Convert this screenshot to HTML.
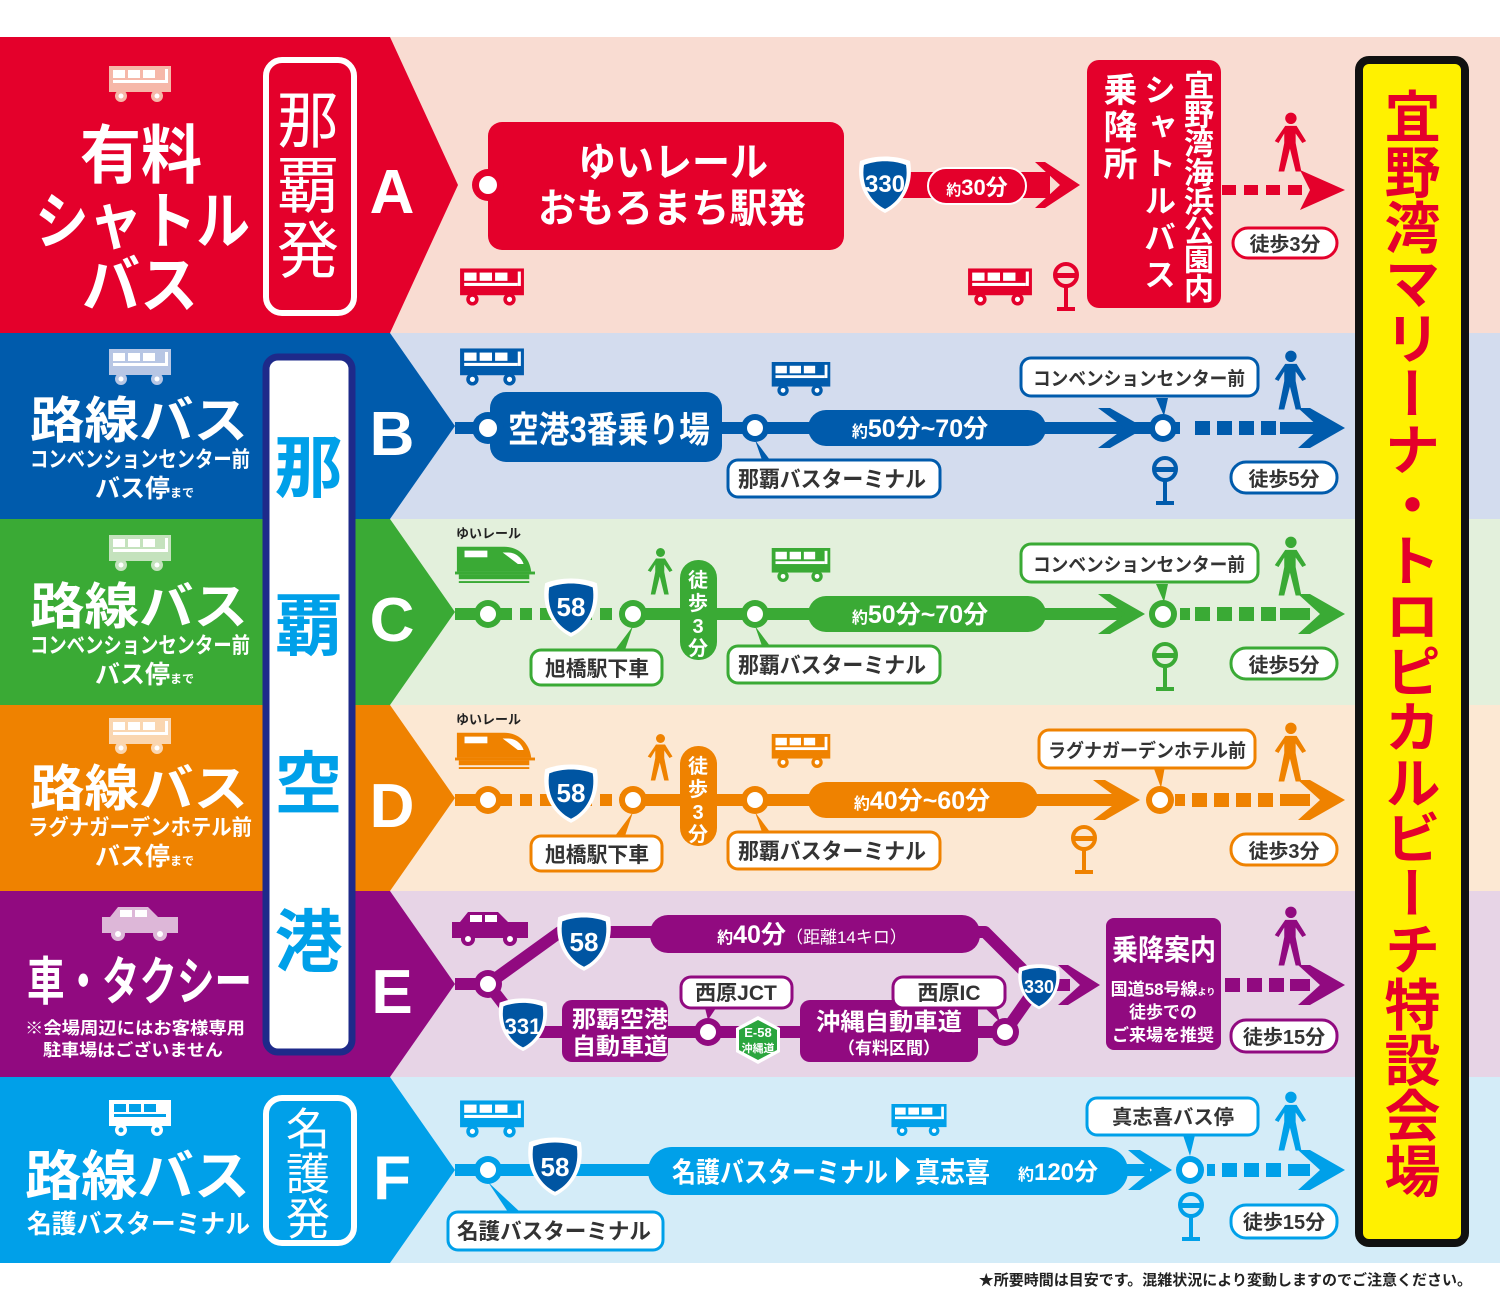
<!DOCTYPE html>
<html><head><meta charset="utf-8">
<style>
body{margin:0;width:1500px;height:1300px;position:relative;background:#fff;overflow:hidden;font-family:"Liberation Sans","Noto Sans CJK JP",sans-serif}
svg{position:absolute;left:0;top:0}
svg text{font-family:"Liberation Sans","Noto Sans CJK JP",sans-serif;font-weight:bold}
.v{position:absolute;writing-mode:vertical-rl;font-weight:bold;line-height:1;white-space:nowrap}
</style></head><body>
<svg width="1500" height="1300" viewBox="0 0 1500 1300">
<defs>
<symbol id="bus" viewBox="0 0 66 36"><rect x="2" y="0" width="62" height="26"/><circle cx="14" cy="30" r="6"/><circle cx="50" cy="30" r="6"/><g fill="#fff"><rect x="6" y="4" width="12" height="8"/><rect x="21" y="4" width="12" height="8"/><rect x="36" y="4" width="12" height="8"/><rect x="6" y="14" width="52" height="3"/><rect x="58" y="3" width="3" height="14"/><circle cx="14" cy="30" r="2.5"/><circle cx="50" cy="30" r="2.5"/></g></symbol>
<symbol id="car" viewBox="0 0 76 34"><path d="M16 0h30l10 10h20v16H0V10h8z"/><circle cx="16" cy="27" r="7"/><circle cx="58" cy="27" r="7"/><g fill="#fff"><rect x="18" y="3" width="12" height="7"/><rect x="33" y="3" width="12" height="7"/><circle cx="16" cy="27" r="3"/><circle cx="58" cy="27" r="3"/></g></symbol>
<symbol id="man" viewBox="0 0 40 64"><circle cx="22" cy="6" r="6"/><path d="M16 14h12l10 16-4 2-7-10v10l6 30h-6l-6-24-6 24h-6l6-30V22l-6 10-4-2z"/></symbol>
<symbol id="stop" viewBox="0 0 30 50"><circle cx="15" cy="13" r="11" fill="none" stroke-width="4" stroke="currentColor"/><rect x="3" y="11" width="24" height="5" fill="currentColor"/><rect x="13" y="24" width="4" height="24" fill="currentColor"/><rect x="6" y="45" width="18" height="4" fill="currentColor"/></symbol>
<symbol id="train" viewBox="0 0 84 42"><path d="M2 4h50c14 0 26 10 28 26H2z"/><rect x="0" y="30" width="84" height="3"/><rect x="4" y="33" width="74" height="5"/><rect x="4" y="40" width="74" height="2"/><rect x="10" y="8" width="24" height="7" fill="#fff"/><path d="M50 10h6c8 0 14 6 16 12h-6z" fill="#fff"/></symbol>
<symbol id="shield" viewBox="0 0 60 60"><path d="M5 6c15-6 35-6 50 0 4 22-5 42-25 52C10 48 1 28 5 6z" fill="#fff"/><path d="M9 10c13-5 29-5 42 0 3 19-5 36-21 44C14 46 6 29 9 10z" fill="#0055a2"/></symbol>
</defs>

<rect x="0" y="37" width="1500" height="296" fill="#f9dcd2"/>
<rect x="0" y="333" width="1500" height="186" fill="#d3dcee"/>
<rect x="0" y="519" width="1500" height="186" fill="#e3f0dc"/>
<rect x="0" y="705" width="1500" height="186" fill="#fce8d3"/>
<rect x="0" y="891" width="1500" height="186" fill="#e7d4e6"/>
<rect x="0" y="1077" width="1500" height="186" fill="#d4ecf8"/>
<polygon points="0,37 390,37 458,185 390,333 0,333" fill="#e4002b"/>
<polygon points="0,333 390,333 455,426 390,519 0,519" fill="#005bac"/>
<polygon points="0,519 390,519 455,612 390,705 0,705" fill="#3aaa35"/>
<polygon points="0,705 390,705 455,798 390,891 0,891" fill="#ef8200"/>
<polygon points="0,891 390,891 455,984 390,1077 0,1077" fill="#910a80"/>
<polygon points="0,1077 390,1077 455,1170 390,1263 0,1263" fill="#00a0e9"/>

<use href="#bus" x="107" y="66" width="66" height="36" fill="#f6b7a8"/>
<use href="#bus" x="107" y="349" width="66" height="36" fill="#b7c6e4"/>
<use href="#bus" x="107" y="535" width="66" height="36" fill="#c4e2bd"/>
<use href="#bus" x="107" y="718" width="66" height="36" fill="#fad6b0"/>
<use href="#car" x="102" y="907" width="76" height="34" fill="#ddb7d8"/>
<use href="#bus" x="107" y="1100" width="66" height="36" fill="#fff"/>
<g fill="#00a0e9"><rect x="114" y="1104" width="12" height="8"/><rect x="129" y="1104" width="12" height="8"/><rect x="144" y="1104" width="12" height="8"/><rect x="114" y="1114" width="52" height="3"/><circle cx="121" cy="1130" r="2.5"/><circle cx="157" cy="1130" r="2.5"/></g>

<g fill="#fff">
<text x="80" y="178" font-size="64" textLength="122" lengthAdjust="spacingAndGlyphs">有料</text>
<text x="35" y="243" font-size="62" textLength="215" lengthAdjust="spacingAndGlyphs">シャトル</text>
<text x="82" y="307" font-size="62" textLength="116" lengthAdjust="spacingAndGlyphs">バス</text>
<text x="30" y="438" font-size="50" textLength="218" lengthAdjust="spacingAndGlyphs">路線バス</text>
<text x="30" y="467" font-size="22" textLength="220" lengthAdjust="spacingAndGlyphs">コンベンションセンター前</text>
<text x="95" y="497" font-size="25">バス停<tspan font-size="12">まで</tspan></text>
<text x="30" y="624" font-size="50" textLength="218" lengthAdjust="spacingAndGlyphs">路線バス</text>
<text x="30" y="653" font-size="22" textLength="220" lengthAdjust="spacingAndGlyphs">コンベンションセンター前</text>
<text x="95" y="683" font-size="25">バス停<tspan font-size="12">まで</tspan></text>
<text x="30" y="806" font-size="50" textLength="218" lengthAdjust="spacingAndGlyphs">路線バス</text>
<text x="28" y="835" font-size="22" textLength="224" lengthAdjust="spacingAndGlyphs">ラグナガーデンホテル前</text>
<text x="95" y="865" font-size="25">バス停<tspan font-size="12">まで</tspan></text>
<text x="27" y="1000" font-size="52" textLength="225" lengthAdjust="spacingAndGlyphs">車・タクシー</text>
<text x="25" y="1034" font-size="17" font-weight="normal" textLength="220" lengthAdjust="spacingAndGlyphs">※会場周辺にはお客様専用</text>
<text x="43" y="1056" font-size="17" font-weight="normal" textLength="180" lengthAdjust="spacingAndGlyphs">駐車場はございません</text>
<text x="25" y="1195" font-size="54" textLength="225" lengthAdjust="spacingAndGlyphs">路線バス</text>
<text x="27" y="1233" font-size="26" textLength="223" lengthAdjust="spacingAndGlyphs">名護バスターミナル</text>
<g font-size="62" font-family="Liberation Sans" text-anchor="middle">
<text x="392" y="213">A</text><text x="392" y="455">B</text><text x="392" y="641">C</text><text x="392" y="827">D</text><text x="392" y="1013">E</text><text x="392" y="1199">F</text></g>
</g>
<rect x="266" y="60" width="88" height="253" rx="16" fill="none" stroke="#fff" stroke-width="6"/>
<rect x="266" y="1098" width="88" height="145" rx="16" fill="none" stroke="#fff" stroke-width="6"/>
<rect x="266" y="357" width="86" height="695" rx="12" fill="#fff" stroke="#1e2a8a" stroke-width="7"/>

<rect x="1359" y="60" width="106" height="1183" rx="10" fill="#fff100" stroke="#111" stroke-width="8"/>

<!-- ROW A -->
<g>
<rect x="488" y="122" width="356" height="128" rx="14" fill="#e4002b"/>
<circle cx="488" cy="185" r="16" fill="#e4002b"/><circle cx="488" cy="185" r="9" fill="#fff"/>
<text x="578" y="176" font-size="40" fill="#fff" textLength="190" lengthAdjust="spacingAndGlyphs">ゆいレール</text>
<text x="538" y="222" font-size="40" fill="#fff" textLength="268" lengthAdjust="spacingAndGlyphs">おもろまち駅発</text>
<rect x="900" y="172" width="150" height="26" fill="#e4002b"/>
<rect x="928" y="168" width="98" height="36" rx="18" fill="#e4002b" stroke="#fff" stroke-width="2"/>
<text x="977" y="195" font-size="22" fill="#fff" text-anchor="middle"><tspan font-size="15">約</tspan>30分</text>
<polygon points="1045,162 1080,185 1045,208 1035,208 1060,185 1035,162" fill="#e4002b"/>
<use href="#shield" x="855" y="155" width="60" height="60"/>
<text x="885" y="192" font-size="24" fill="#fff" text-anchor="middle" font-family="Liberation Sans">330</text>
<rect x="1087" y="60" width="134" height="248" rx="12" fill="#e4002b"/>
<line x1="1222" y1="190" x2="1318" y2="190" stroke="#e4002b" stroke-width="10" stroke-dasharray="14,8"/>
<polygon points="1300,170 1345,190 1300,210 1310,190" fill="#e4002b"/>
<use href="#man" x="1270" y="112" width="38" height="62" fill="#e4002b"/>
<rect x="1233" y="228" width="104" height="30" rx="15" fill="#fff" stroke="#e4002b" stroke-width="3"/>
<text x="1285" y="251" font-size="20" fill="#333" text-anchor="middle">徒歩3分</text>
<use href="#bus" x="458" y="268" width="68" height="38" fill="#e4002b"/>
<use href="#bus" x="966" y="268" width="68" height="38" fill="#e4002b"/>
<use href="#stop" x="1051" y="262" width="30" height="50" color="#e4002b"/>
</g>

<!-- ROW B -->
<g>
<line x1="455" y1="428" x2="1330" y2="428" stroke="#005bac" stroke-width="12"/>
<rect x="490" y="392" width="232" height="70" rx="16" fill="#005bac"/>
<circle cx="488" cy="428" r="16" fill="#005bac"/><circle cx="488" cy="428" r="9" fill="#fff"/>
<text x="508" y="442" font-size="36" fill="#fff" textLength="202" lengthAdjust="spacingAndGlyphs">空港3番乗り場</text>
<circle cx="755" cy="428" r="14" fill="#005bac"/><circle cx="755" cy="428" r="8" fill="#fff"/>
<rect x="808" y="410" width="238" height="36" rx="18" fill="#005bac"/>
<text x="920" y="437" font-size="25" fill="#fff" text-anchor="middle"><tspan font-size="16">約</tspan>50分~70分</text>
<polygon points="1110,408 1145,428 1110,448 1098,448 1125,428 1098,408" fill="#005bac"/>
<rect x="1180" y="418" width="130" height="20" fill="#d3dcee"/>
<g fill="#005bac"><rect x="1195" y="421" width="15" height="14"/><rect x="1217" y="421" width="15" height="14"/><rect x="1239" y="421" width="15" height="14"/><rect x="1261" y="421" width="15" height="14"/></g>
<polygon points="1310,408 1345,428 1310,448 1298,448 1320,428 1298,408" fill="#005bac"/>
<rect x="1280" y="422" width="30" height="12" fill="#005bac"/>
<circle cx="1163" cy="428" r="14" fill="#005bac"/><circle cx="1163" cy="428" r="8" fill="#fff"/>
<use href="#man" x="1270" y="350" width="38" height="62" fill="#005bac"/>
<polygon points="1156,398 1168,398 1164,416" fill="#005bac"/>
<rect x="1021" y="358" width="237" height="38" rx="10" fill="#fff" stroke="#005bac" stroke-width="3"/>
<text x="1033" y="385" font-size="19" fill="#333" textLength="212" lengthAdjust="spacingAndGlyphs">コンベンションセンター前</text>
<polygon points="755,440 770,460 762,460" fill="#005bac"/>
<rect x="728" y="460" width="212" height="37" rx="10" fill="#fff" stroke="#005bac" stroke-width="3"/>
<text x="738" y="487" font-size="22" fill="#333" textLength="188" lengthAdjust="spacingAndGlyphs">那覇バスターミナル</text>
<use href="#stop" x="1150" y="456" width="30" height="50" color="#005bac"/>
<rect x="1231" y="462" width="106" height="31" rx="15" fill="#fff" stroke="#005bac" stroke-width="3"/>
<text x="1284" y="486" font-size="20" fill="#333" text-anchor="middle">徒歩5分</text>
<use href="#bus" x="458" y="348" width="68" height="38" fill="#005bac"/>
<use href="#bus" x="769" y="362" width="64" height="34" fill="#005bac"/>
</g>

<!-- ROW C -->
<g>
<line x1="455" y1="614" x2="488" y2="614" stroke="#3aaa35" stroke-width="12"/>
<line x1="500" y1="614" x2="630" y2="614" stroke="#3aaa35" stroke-width="12" stroke-dasharray="12,8"/>
<line x1="633" y1="614" x2="1130" y2="614" stroke="#3aaa35" stroke-width="12"/>
<circle cx="488" cy="614" r="14" fill="#3aaa35"/><circle cx="488" cy="614" r="8" fill="#fff"/>
<circle cx="633" cy="614" r="14" fill="#3aaa35"/><circle cx="633" cy="614" r="8" fill="#fff"/>
<circle cx="755" cy="614" r="14" fill="#3aaa35"/><circle cx="755" cy="614" r="8" fill="#fff"/>
<use href="#shield" x="540" y="577" width="62" height="62"/>
<text x="571" y="616" font-size="26" fill="#fff" text-anchor="middle" font-family="Liberation Sans">58</text>
<rect x="680" y="560" width="37" height="100" rx="18" fill="#3aaa35"/>
<text x="698" y="587" font-size="20" fill="#fff" text-anchor="middle">徒</text><text x="698" y="610" font-size="20" fill="#fff" text-anchor="middle">歩</text><text x="698" y="633" font-size="20" fill="#fff" text-anchor="middle">3</text><text x="698" y="655" font-size="20" fill="#fff" text-anchor="middle">分</text>
<use href="#man" x="644" y="545" width="30" height="54" fill="#3aaa35"/>
<rect x="808" y="596" width="238" height="36" rx="18" fill="#3aaa35"/>
<text x="920" y="623" font-size="25" fill="#fff" text-anchor="middle"><tspan font-size="16">約</tspan>50分~70分</text>
<polygon points="1110,594 1145,614 1110,634 1098,634 1125,614 1098,594" fill="#3aaa35"/>
<g fill="#3aaa35"><rect x="1180" y="608" width="10" height="12"/><rect x="1195" y="607" width="15" height="14"/><rect x="1217" y="607" width="15" height="14"/><rect x="1239" y="607" width="15" height="14"/><rect x="1261" y="607" width="15" height="14"/><rect x="1280" y="608" width="30" height="12"/></g>
<polygon points="1310,594 1345,614 1310,634 1298,634 1320,614 1298,594" fill="#3aaa35"/>
<circle cx="1163" cy="614" r="14" fill="#3aaa35"/><circle cx="1163" cy="614" r="8" fill="#fff"/>
<use href="#man" x="1270" y="536" width="38" height="62" fill="#3aaa35"/>
<polygon points="1156,584 1168,584 1164,602" fill="#3aaa35"/>
<rect x="1021" y="544" width="237" height="38" rx="10" fill="#fff" stroke="#3aaa35" stroke-width="3"/>
<text x="1033" y="571" font-size="19" fill="#333" textLength="212" lengthAdjust="spacingAndGlyphs">コンベンションセンター前</text>
<polygon points="755,626 770,646 762,646" fill="#3aaa35"/>
<rect x="728" y="646" width="212" height="37" rx="10" fill="#fff" stroke="#3aaa35" stroke-width="3"/>
<text x="738" y="673" font-size="22" fill="#333" textLength="188" lengthAdjust="spacingAndGlyphs">那覇バスターミナル</text>
<polygon points="633,626 625,650 615,650" fill="#3aaa35"/>
<rect x="531" y="650" width="131" height="35" rx="10" fill="#fff" stroke="#3aaa35" stroke-width="3"/>
<text x="545" y="676" font-size="21" fill="#333" textLength="104" lengthAdjust="spacingAndGlyphs">旭橋駅下車</text>
<use href="#stop" x="1150" y="642" width="30" height="50" color="#3aaa35"/>
<rect x="1231" y="648" width="106" height="31" rx="15" fill="#fff" stroke="#3aaa35" stroke-width="3"/>
<text x="1284" y="672" font-size="20" fill="#333" text-anchor="middle">徒歩5分</text>
<text x="456" y="538" font-size="13" fill="#222" font-weight="normal">ゆいレール</text>
<use href="#train" x="453" y="543" width="84" height="40" fill="#3aaa35"/>
<use href="#bus" x="769" y="548" width="64" height="34" fill="#3aaa35"/>
</g>

<!-- ROW D -->
<g>
<line x1="455" y1="800" x2="488" y2="800" stroke="#ef8200" stroke-width="12"/>
<line x1="500" y1="800" x2="630" y2="800" stroke="#ef8200" stroke-width="12" stroke-dasharray="12,8"/>
<line x1="633" y1="800" x2="1125" y2="800" stroke="#ef8200" stroke-width="12"/>
<circle cx="488" cy="800" r="14" fill="#ef8200"/><circle cx="488" cy="800" r="8" fill="#fff"/>
<circle cx="633" cy="800" r="14" fill="#ef8200"/><circle cx="633" cy="800" r="8" fill="#fff"/>
<circle cx="755" cy="800" r="14" fill="#ef8200"/><circle cx="755" cy="800" r="8" fill="#fff"/>
<use href="#shield" x="540" y="763" width="62" height="62"/>
<text x="571" y="802" font-size="26" fill="#fff" text-anchor="middle" font-family="Liberation Sans">58</text>
<rect x="680" y="746" width="37" height="100" rx="18" fill="#ef8200"/>
<text x="698" y="773" font-size="20" fill="#fff" text-anchor="middle">徒</text><text x="698" y="796" font-size="20" fill="#fff" text-anchor="middle">歩</text><text x="698" y="819" font-size="20" fill="#fff" text-anchor="middle">3</text><text x="698" y="841" font-size="20" fill="#fff" text-anchor="middle">分</text>
<use href="#man" x="644" y="731" width="30" height="54" fill="#ef8200"/>
<rect x="808" y="782" width="230" height="36" rx="18" fill="#ef8200"/>
<text x="922" y="809" font-size="25" fill="#fff" text-anchor="middle"><tspan font-size="16">約</tspan>40分~60分</text>
<polygon points="1105,780 1140,800 1105,820 1093,820 1120,800 1093,780" fill="#ef8200"/>
<g fill="#ef8200"><rect x="1175" y="794" width="10" height="12"/><rect x="1192" y="793" width="15" height="14"/><rect x="1214" y="793" width="15" height="14"/><rect x="1236" y="793" width="15" height="14"/><rect x="1258" y="793" width="15" height="14"/><rect x="1280" y="794" width="30" height="12"/></g>
<polygon points="1310,780 1345,800 1310,820 1298,820 1320,800 1298,780" fill="#ef8200"/>
<circle cx="1160" cy="800" r="14" fill="#ef8200"/><circle cx="1160" cy="800" r="8" fill="#fff"/>
<use href="#man" x="1270" y="722" width="38" height="62" fill="#ef8200"/>
<polygon points="1153,766 1165,766 1161,788" fill="#ef8200"/>
<rect x="1039" y="730" width="216" height="38" rx="10" fill="#fff" stroke="#ef8200" stroke-width="3"/>
<text x="1048" y="757" font-size="19" fill="#333" textLength="198" lengthAdjust="spacingAndGlyphs">ラグナガーデンホテル前</text>
<polygon points="755,812 770,832 762,832" fill="#ef8200"/>
<rect x="728" y="832" width="212" height="37" rx="10" fill="#fff" stroke="#ef8200" stroke-width="3"/>
<text x="738" y="859" font-size="22" fill="#333" textLength="188" lengthAdjust="spacingAndGlyphs">那覇バスターミナル</text>
<polygon points="633,812 625,836 615,836" fill="#ef8200"/>
<rect x="531" y="836" width="131" height="35" rx="10" fill="#fff" stroke="#ef8200" stroke-width="3"/>
<text x="545" y="862" font-size="21" fill="#333" textLength="104" lengthAdjust="spacingAndGlyphs">旭橋駅下車</text>
<use href="#stop" x="1069" y="825" width="30" height="50" color="#ef8200"/>
<rect x="1231" y="834" width="106" height="31" rx="15" fill="#fff" stroke="#ef8200" stroke-width="3"/>
<text x="1284" y="858" font-size="20" fill="#333" text-anchor="middle">徒歩3分</text>
<text x="456" y="724" font-size="13" fill="#222" font-weight="normal">ゆいレール</text>
<use href="#train" x="453" y="729" width="84" height="40" fill="#ef8200"/>
<use href="#bus" x="769" y="734" width="64" height="34" fill="#ef8200"/>
</g>

<!-- ROW E -->
<g>
<g stroke="#910a80" stroke-width="12" fill="none" stroke-linejoin="round">
<polyline points="455,984 488,984 560,932 985,932 1038,985 1005,1032 525,1032 488,984"/>
<line x1="1038" y1="985" x2="1070" y2="985"/>
</g>
<circle cx="488" cy="984" r="14" fill="#910a80"/><circle cx="488" cy="984" r="8" fill="#fff"/>
<rect x="650" y="915" width="330" height="38" rx="18" fill="#910a80"/>
<text x="812" y="943" font-size="25" fill="#fff" text-anchor="middle"><tspan font-size="16">約</tspan>40分<tspan font-size="17" font-weight="normal">（距離14キロ）</tspan></text>
<rect x="562" y="1000" width="106" height="62" rx="10" fill="#910a80"/>
<text x="572" y="1027" font-size="23" fill="#fff" textLength="96" lengthAdjust="spacingAndGlyphs">那覇空港</text>
<text x="572" y="1054" font-size="23" fill="#fff" textLength="96" lengthAdjust="spacingAndGlyphs">自動車道</text>
<rect x="800" y="1000" width="178" height="62" rx="10" fill="#910a80"/>
<text x="816" y="1030" font-size="24" fill="#fff" textLength="146" lengthAdjust="spacingAndGlyphs">沖縄自動車道</text>
<text x="889" y="1054" font-size="17" fill="#fff" text-anchor="middle" font-weight="normal">（有料区間）</text>
<circle cx="708" cy="1032" r="14" fill="#910a80"/><circle cx="708" cy="1032" r="8" fill="#fff"/>
<circle cx="1005" cy="1032" r="14" fill="#910a80"/><circle cx="1005" cy="1032" r="8" fill="#fff"/>
<polygon points="758,1016 780,1028 780,1052 758,1064 736,1052 736,1028" fill="#fff"/>
<polygon points="758,1020 777,1030 777,1050 758,1060 739,1050 739,1030" fill="#2aa53d"/>
<text x="758" y="1037" font-size="13" fill="#fff" text-anchor="middle">E-58</text>
<text x="758" y="1052" font-size="11" fill="#fff" text-anchor="middle">沖縄道</text>
<polygon points="705,1008 716,1008 708,1020" fill="#910a80"/>
<rect x="681" y="977" width="111" height="31" rx="10" fill="#fff" stroke="#910a80" stroke-width="3"/>
<text x="736" y="1000" font-size="21" fill="#333" text-anchor="middle">西原JCT</text>
<polygon points="985,1008 996,1008 1000,1022" fill="#910a80"/>
<rect x="893" y="977" width="112" height="31" rx="10" fill="#fff" stroke="#910a80" stroke-width="3"/>
<text x="949" y="1000" font-size="21" fill="#333" text-anchor="middle">西原IC</text>
<use href="#shield" x="553" y="911" width="62" height="62"/>
<text x="584" y="951" font-size="26" fill="#fff" text-anchor="middle" font-family="Liberation Sans">58</text>
<use href="#shield" x="495" y="997" width="56" height="56"/>
<text x="523" y="1034" font-size="22" fill="#fff" text-anchor="middle" font-family="Liberation Sans">331</text>
<use href="#shield" x="1015" y="963" width="48" height="48"/>
<text x="1039" y="993" font-size="18" fill="#fff" text-anchor="middle" font-family="Liberation Sans">330</text>
<polygon points="1068,965 1100,985 1068,1005 1058,1005 1080,985 1058,965" fill="#910a80"/>
<rect x="1106" y="918" width="115" height="132" rx="8" fill="#910a80"/>
<text x="1112" y="960" font-size="29" fill="#fff" textLength="104" lengthAdjust="spacingAndGlyphs">乗降案内</text>
<text x="1163" y="995" font-size="17" fill="#fff" text-anchor="middle" font-weight="normal">国道58号線<tspan font-size="9">より</tspan></text>
<text x="1163" y="1018" font-size="17" fill="#fff" text-anchor="middle" font-weight="normal">徒歩での</text>
<text x="1163" y="1041" font-size="17" fill="#fff" text-anchor="middle" font-weight="normal">ご来場を推奨</text>
<g fill="#910a80"><rect x="1225" y="978" width="15" height="14"/><rect x="1247" y="978" width="15" height="14"/><rect x="1269" y="978" width="15" height="14"/><rect x="1290" y="979" width="20" height="12"/></g>
<polygon points="1310,965 1345,985 1310,1005 1298,1005 1320,985 1298,965" fill="#910a80"/>
<use href="#man" x="1270" y="906" width="38" height="62" fill="#910a80"/>
<rect x="1231" y="1020" width="106" height="32" rx="15" fill="#fff" stroke="#910a80" stroke-width="3"/>
<text x="1284" y="1044" font-size="20" fill="#333" text-anchor="middle">徒歩15分</text>
<use href="#car" x="452" y="912" width="76" height="34" fill="#910a80"/>
</g>

<!-- ROW F -->
<g>
<line x1="455" y1="1170" x2="1150" y2="1170" stroke="#00a0e9" stroke-width="12"/>
<circle cx="488" cy="1170" r="14" fill="#00a0e9"/><circle cx="488" cy="1170" r="8" fill="#fff"/>
<rect x="648" y="1147" width="480" height="48" rx="24" fill="#00a0e9"/>
<text x="672" y="1182" font-size="28" fill="#fff" textLength="216" lengthAdjust="spacingAndGlyphs">名護バスターミナル</text>
<polygon points="896,1157 910,1170 896,1183" fill="#fff"/>
<text x="915" y="1182" font-size="28" fill="#fff" textLength="75" lengthAdjust="spacingAndGlyphs">真志喜</text>
<text x="1058" y="1180" font-size="24" fill="#fff" text-anchor="middle"><tspan font-size="16">約</tspan>120分</text>
<polygon points="1140,1150 1172,1170 1140,1190 1128,1190 1152,1170 1128,1150" fill="#00a0e9"/>
<circle cx="1190" cy="1170" r="14" fill="#00a0e9"/><circle cx="1190" cy="1170" r="8" fill="#fff"/>
<g fill="#00a0e9"><rect x="1207" y="1164" width="8" height="12"/><rect x="1222" y="1163" width="15" height="14"/><rect x="1244" y="1163" width="15" height="14"/><rect x="1266" y="1163" width="15" height="14"/><rect x="1288" y="1164" width="22" height="12"/></g>
<polygon points="1310,1150 1345,1170 1310,1190 1298,1190 1320,1170 1298,1150" fill="#00a0e9"/>
<use href="#shield" x="524" y="1136" width="62" height="62"/>
<text x="555" y="1176" font-size="26" fill="#fff" text-anchor="middle" font-family="Liberation Sans">58</text>
<polygon points="488,1182 520,1212 508,1212" fill="#00a0e9"/>
<rect x="448" y="1212" width="215" height="38" rx="10" fill="#fff" stroke="#00a0e9" stroke-width="3"/>
<text x="457" y="1239" font-size="22" fill="#333" textLength="194" lengthAdjust="spacingAndGlyphs">名護バスターミナル</text>
<polygon points="1183,1135 1195,1135 1190,1156" fill="#00a0e9"/>
<rect x="1087" y="1098" width="171" height="37" rx="10" fill="#fff" stroke="#00a0e9" stroke-width="3"/>
<text x="1112" y="1124" font-size="20" fill="#333" textLength="122" lengthAdjust="spacingAndGlyphs">真志喜バス停</text>
<use href="#man" x="1270" y="1091" width="38" height="62" fill="#00a0e9"/>
<use href="#stop" x="1176" y="1192" width="30" height="50" color="#00a0e9"/>
<rect x="1231" y="1205" width="106" height="33" rx="15" fill="#fff" stroke="#00a0e9" stroke-width="3"/>
<text x="1284" y="1229" font-size="20" fill="#333" text-anchor="middle">徒歩15分</text>
<use href="#bus" x="458" y="1100" width="68" height="38" fill="#00a0e9"/>
<use href="#bus" x="889" y="1104" width="60" height="32" fill="#00a0e9"/>
</g>

<text x="1472" y="1285" font-size="15" fill="#222" text-anchor="end" font-weight="normal">★所要時間は目安です。混雑状況により変動しますのでご注意ください。</text>
</svg>

<div class="v" style="left:1380px;top:88px;width:56px;font-size:56px;color:#e4002b;letter-spacing:-0.5px">宜野湾マリーナ・トロピカルビーチ特設会場</div>
<div class="v" style="left:270px;top:88px;width:62px;font-size:62px;color:#fff;font-weight:normal;letter-spacing:3px">那覇発</div>
<div class="v" style="left:279px;top:1106px;width:46px;font-size:44px;color:#fff;font-weight:normal;letter-spacing:1px">名護発</div>
<div class="v" style="left:268px;top:432px;width:68px;font-size:68px;color:#00a0e9;letter-spacing:90px">那覇空港</div>
<div class="v" style="left:1180px;top:70px;width:30px;font-size:30px;color:#fff;letter-spacing:-1px">宜野湾海浜公園内</div>
<div class="v" style="left:1142px;top:73px;width:32px;font-size:32px;color:#fff;letter-spacing:5px">シャトルバス</div>
<div class="v" style="left:1100px;top:72px;width:34px;font-size:34px;color:#fff;letter-spacing:3px">乗降所</div>
</body></html>
